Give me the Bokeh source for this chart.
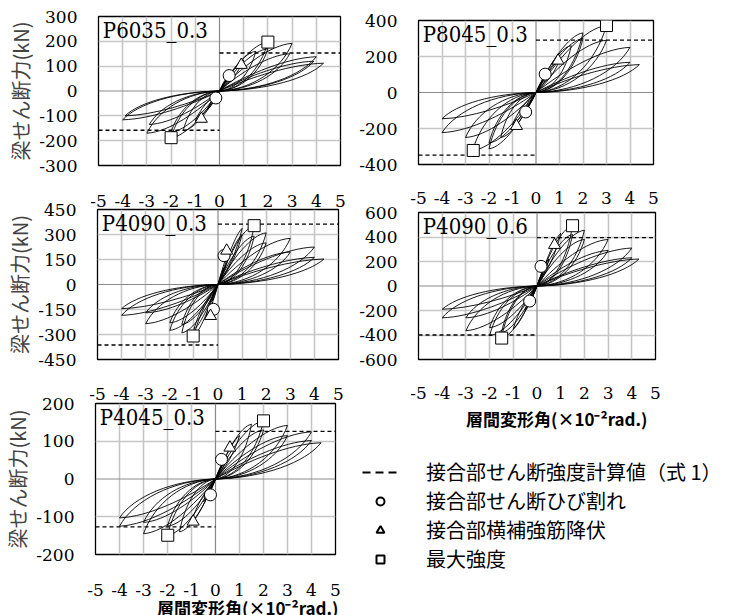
from bokeh.plotting import figure
from bokeh.layouts import row, column
from bokeh.models import Range1d, FixedTicker, Legend, LegendItem, Label, Span, ColumnDataSource, Title
from bokeh.embed import file_html
from bokeh.resources import INLINE

# ---------------- data ----------------
drift_ticks = [-5, -4, -3, -2, -1, 0, 1, 2, 3, 4, 5]

# P6035_0.3 : cycle peaks (drift x10^-2 rad, shear kN)
p6035_pos_x = [0.25, 0.5, 1.0, 1.5, 2.0, 2.0, 3.0, 2.9, 4.0, 3.9, 4.3]
p6035_pos_y = [45, 75, 125, 160, 197, 170, 192, 150, 138, 120, 112]
p6035_neg_x = [-0.25, -0.5, -1.0, -1.5, -2.0, -2.0, -3.0, -2.9, -4.0, -3.9]
p6035_neg_y = [-45, -75, -120, -160, -188, -165, -170, -135, -116, -100]
p6035_crack_x, p6035_crack_y = [0.4, -0.15], [62, -28]
p6035_yield_x, p6035_yield_y = [0.9, -0.75], [105, -112]
p6035_max_x, p6035_max_y = [2.0, -2.0], [197, -188]
p6035_calc = [153, -158]

# P8045_0.3
p8045_pos_x = [0.25, 0.5, 1.0, 1.5, 2.0, 2.0, 3.0, 3.0, 4.0, 4.0, 4.4]
p8045_pos_y = [60, 100, 180, 260, 331, 300, 372, 290, 251, 168, 155]
p8045_neg_x = [-0.25, -0.5, -1.0, -1.5, -2.0, -2.0, -2.7, -3.0, -4.0, -4.0]
p8045_neg_y = [-60, -100, -180, -250, -313, -280, -322, -250, -223, -146]
p8045_crack_x, p8045_crack_y = [0.39, -0.44], [102, -108]
p8045_yield_x, p8045_yield_y = [0.94, -0.83], [177, -186]
p8045_max_x, p8045_max_y = [3.0, -2.67], [372, -322]
p8045_calc = [291, -348]

# P4090_0.3
p4090a_pos_x = [0.25, 0.5, 1.0, 1.0, 1.5, 1.5, 2.0, 2.0, 3.0, 3.0, 4.0, 4.0, 4.4]
p4090a_pos_y = [100, 210, 337, 300, 353, 290, 310, 250, 277, 195, 225, 163, 153]
p4090a_neg_x = [-0.25, -0.5, -1.0, -1.0, -1.5, -1.5, -2.0, -2.0, -3.0, -3.0, -4.0, -4.0]
p4090a_neg_y = [-100, -200, -309, -270, -290, -240, -275, -230, -235, -170, -185, -145]
p4090a_crack_x, p4090a_crack_y = [0.25, -0.19], [173, -149]
p4090a_yield_x, p4090a_yield_y = [0.36, -0.31], [203, -189]
p4090a_max_x, p4090a_max_y = [1.5, -1.03], [353, -309]
p4090a_calc = [362, -363]

# P4090_0.6
p4090b_pos_x = [0.25, 0.5, 1.0, 1.5, 1.5, 2.0, 2.0, 3.0, 3.0, 4.0, 4.0, 4.3]
p4090b_pos_y = [110, 220, 430, 492, 420, 455, 380, 380, 290, 310, 230, 220]
p4090b_neg_x = [-0.25, -0.5, -1.0, -1.5, -1.5, -2.0, -2.0, -3.0, -3.0, -4.0, -4.0]
p4090b_neg_y = [-100, -200, -350, -425, -380, -405, -340, -365, -260, -260, -190]
p4090b_crack_x, p4090b_crack_y = [0.17, -0.31], [160, -123]
p4090b_yield_x, p4090b_yield_y = [0.74], [335]
p4090b_max_x, p4090b_max_y = [1.5, -1.49], [492, -425]
p4090b_calc = [395, -400]

# P4045_0.3
p4045_pos_x = [0.25, 0.5, 1.0, 1.5, 2.0, 2.0, 3.0, 3.0, 4.0, 4.0, 4.4]
p4045_pos_y = [35, 60, 115, 145, 154, 130, 142, 115, 125, 102, 96]
p4045_neg_x = [-0.25, -0.5, -1.0, -1.5, -2.0, -2.0, -3.0, -3.0, -4.0, -4.0]
p4045_neg_y = [-35, -60, -115, -140, -149, -125, -145, -115, -125, -103]
p4045_crack_x, p4045_crack_y = [0.25, -0.21], [52, -42]
p4045_yield_x, p4045_yield_y = [0.6, -0.93], [83, -113]
p4045_max_x, p4045_max_y = [2.0, -1.99], [154, -149]
p4045_calc = [126, -127]

Y_TITLE = "梁せん断力(kN)"
X_TITLE = "層間変形角(×10⁻²rad.)"
LEGEND_LABELS = ["接合部せん断強度計算値（式 1）", "接合部せん断ひび割れ", "接合部横補強筋降伏", "最大強度"]

TICK_FONT = "DejaVu Serif"
TITLE_FONT = "DejaVu Serif Condensed"
CJK = "Noto Sans CJK JP"


def loop_source(xs, ys):
    # each half cycle drawn as a leaf: loading edge (origin -> peak) and unloading edge (peak -> origin)
    d = dict(x0=[], y0=[], x1=[], y1=[], cx0=[], cy0=[], cx1=[], cy1=[])
    for X, Y in zip(xs, ys):
        big = abs(X) > 1.2
        up = (0.3, 0.5, 0.7, 0.97) if big else (0.4, 0.5, 0.75, 0.9)
        lo = (0.85, 0.45, 0.45, 0.03) if big else (0.8, 0.6, 0.4, 0.25)
        d["x0"] += [0, X]; d["y0"] += [0, Y]
        d["x1"] += [X, 0]; d["y1"] += [Y, 0]
        d["cx0"] += [up[0] * X, lo[0] * X]; d["cy0"] += [up[1] * Y, lo[1] * Y]
        d["cx1"] += [up[2] * X, lo[2] * X]; d["cy1"] += [up[3] * Y, lo[3] * Y]
    return ColumnDataSource(d)


def panel(name, ylim, ystep, pos_x, pos_y, neg_x, neg_y, crack, yld, mx, calc,
          width, height, bl, br, bt, bb, margin, ytitle=False, xtitle=None, x_standoff=23):
    p = figure(width=width, height=height, x_range=Range1d(-5, 5), y_range=Range1d(-ylim, ylim),
               output_backend="svg", toolbar_location=None, frame_align=False, margin=margin,
               min_border_left=bl, min_border_right=br, min_border_top=bt, min_border_bottom=bb)
    p.border_fill_alpha = 0
    yt = list(range(-ylim, ylim + 1, ystep))
    p.xaxis.ticker = FixedTicker(ticks=drift_ticks)
    p.yaxis.ticker = FixedTicker(ticks=yt)
    p.xaxis.major_label_overrides = {t: str(t) for t in drift_ticks}
    p.yaxis.major_label_overrides = {t: str(t) for t in yt}
    p.xgrid.ticker = FixedTicker(ticks=[t for t in drift_ticks if t != 0])
    p.ygrid.ticker = FixedTicker(ticks=[t for t in yt if t != 0])
    p.grid.grid_line_color = "#c6c6c6"
    p.grid.grid_line_width = 1.6
    p.add_layout(Span(location=0, dimension="width", line_color="#8a8a8a", line_width=1.2, level="underlay"))
    p.add_layout(Span(location=0, dimension="height", line_color="#8a8a8a", line_width=1.2, level="underlay"))
    p.outline_line_color = "black"
    p.outline_line_width = 1.3
    p.background_fill_color = "white"
    for ax in (p.xaxis[0], p.yaxis[0]):
        ax.axis_line_color = None
        ax.major_tick_line_color = None
        ax.minor_tick_line_color = None
        ax.major_label_text_font = TICK_FONT
        ax.major_label_text_font_size = "17px"
        ax.major_label_text_color = "black"
    p.xaxis.major_label_standoff = x_standoff
    p.yaxis.major_label_standoff = 15
    if ytitle:
        p.yaxis.axis_label = Y_TITLE
        p.yaxis.axis_label_text_font = CJK
        p.yaxis.axis_label_text_font_size = "20px"
        p.yaxis.axis_label_text_font_style = "normal"
        p.yaxis.axis_label_standoff = 1
    if xtitle is not None:
        # x-axis title below the tick labels, right-aligned under the frame
        p.add_layout(Title(text=X_TITLE, align="right", offset=xtitle[0], standoff=xtitle[1],
                           text_font=CJK, text_font_size="17px", text_font_style="bold",
                           text_color="black"), "below")

    p.bezier(x0="x0", y0="y0", x1="x1", y1="y1", cx0="cx0", cy0="cy0", cx1="cx1", cy1="cy1",
             source=loop_source(pos_x, pos_y), line_color="black", line_width=0.9)
    p.bezier(x0="x0", y0="y0", x1="x1", y1="y1", cx0="cx0", cy0="cy0", cx1="cx1", cy1="cy1",
             source=loop_source(neg_x, neg_y), line_color="black", line_width=0.9)

    p.segment(x0=[0, -5], y0=calc, x1=[5, 0], y1=calc, line_color="black", line_width=1.3, line_dash="4 3")

    p.scatter(crack[0], crack[1], marker="circle", size=12, fill_color="white", line_color="black", line_width=1)
    p.scatter(yld[0], yld[1], marker="triangle", size=12, fill_color="white", line_color="black", line_width=1)
    p.scatter(mx[0], mx[1], marker="square", size=12, fill_color="white", line_color="black", line_width=1)

    p.add_layout(Label(x=-4.82, y=ylim * 0.985, text=name, text_font=TITLE_FONT, text_font_size="22px",
                       text_baseline="top", text_color="black"))
    return p


# left column (page has no body margin: positions are absolute)
p1 = panel("P6035_0.3", 300, 100, p6035_pos_x, p6035_pos_y, p6035_neg_x, p6035_neg_y,
           (p6035_crack_x, p6035_crack_y), (p6035_yield_x, p6035_yield_y), (p6035_max_x, p6035_max_y),
           p6035_calc, 356, 210, 98, 16, 16, 45, (0, 0, 0, 0), ytitle=True, x_standoff=23)
p3 = panel("P4090_0.3", 450, 150, p4090a_pos_x, p4090a_pos_y, p4090a_neg_x, p4090a_neg_y,
           (p4090a_crack_x, p4090a_crack_y), (p4090a_yield_x, p4090a_yield_y), (p4090a_max_x, p4090a_max_y),
           p4090a_calc, 356, 208, 97, 18, 12, 46, (-13, 0, 0, 0), ytitle=True, x_standoff=22)
p5 = panel("P4045_0.3", 200, 100, p4045_pos_x, p4045_pos_y, p4045_neg_x, p4045_neg_y,
           (p4045_crack_x, p4045_crack_y), (p4045_yield_x, p4045_yield_y), (p4045_max_x, p4045_max_y),
           p4045_calc, 356, 224, 94, 21, 12, 61, (-14, 0, 0, 0), ytitle=True, xtitle=(-3, -11),
           x_standoff=23)
# right column
p2 = panel("P8045_0.3", 400, 200, p8045_pos_x, p8045_pos_y, p8045_neg_x, p8045_neg_y,
           (p8045_crack_x, p8045_crack_y), (p8045_yield_x, p8045_yield_y), (p8045_max_x, p8045_max_y),
           p8045_calc, 365, 207, 57, 68, 20, 43, (0, 0, 0, 0), x_standoff=21)
p4 = panel("P4090_0.6", 600, 200, p4090b_pos_x, p4090b_pos_y, p4090b_neg_x, p4090b_neg_y,
           (p4090b_crack_x, p4090b_crack_y), (p4090b_yield_x, p4090b_yield_y), (p4090b_max_x, p4090b_max_y),
           p4090b_calc, 365, 232, 60, 66, 12, 71, (-7, 0, 0, 0), xtitle=(8, 4), x_standoff=21)

# legend panel
p6 = figure(width=365, height=183, x_range=Range1d(0, 1), y_range=Range1d(0, 1),
            output_backend="svg", toolbar_location=None, min_border=0, frame_align=False)
p6.axis.visible = False
p6.grid.visible = False
p6.outline_line_color = None
p6.border_fill_alpha = 0
p6.background_fill_alpha = 0
nan_src = ColumnDataSource(dict(x=[float("nan")], y=[float("nan")]))
r1 = p6.line("x", "y", source=nan_src, line_color="black", line_width=2.2, line_dash="8 5")
r2 = p6.scatter("x", "y", source=nan_src, marker="circle", size=13, fill_color="white", line_color="black", line_width=2)
r3 = p6.scatter("x", "y", source=nan_src, marker="triangle", size=13, fill_color="white", line_color="black", line_width=2)
r4 = p6.scatter("x", "y", source=nan_src, marker="square", size=13, fill_color="white", line_color="black", line_width=2)
leg = Legend(items=[LegendItem(label=LEGEND_LABELS[i], renderers=[r]) for i, r in enumerate([r1, r2, r3, r4])],
             location=(6, 42), padding=0, margin=0, border_line_color=None, background_fill_alpha=0,
             glyph_width=36, glyph_height=20, label_height=20, spacing=0, label_standoff=28,
             label_text_font=CJK, label_text_font_size="20px", label_text_line_height=1.0,
             label_text_color="black")
p6.add_layout(leg)

layout = row(column(p1, p3, p5), column(p2, p4, p6))
open("out.html", "w").write(file_html(layout, INLINE))
